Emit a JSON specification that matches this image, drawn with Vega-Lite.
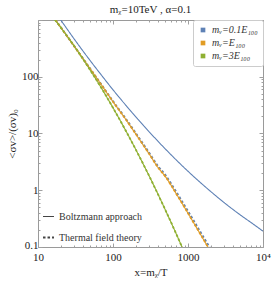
{
  "$schema": "https://vega.github.io/schema/vega-lite/v6.json",
  "width": 225,
  "height": 227,
  "autosize": {"type": "none"},
  "padding": {"left": 38, "top": 20, "right": 9, "bottom": 39},
  "title": {"text": "mᵪ=10TeV , α=0.1", "font": "Liberation Serif", "fontSize": 11, "fontWeight": "normal", "color": "#222", "offset": 5},
  "config": {
    "view": {"stroke": "#9a9a9a", "strokeWidth": 1},
    "font": "Liberation Serif",
    "axis": {"domain": false, "grid": false, "labelFont": "Liberation Serif", "labelFontSize": 11, "labelColor": "#222", "titleFont": "Liberation Serif", "titleFontSize": 11, "titleFontWeight": "normal", "titleColor": "#222", "tickColor": "#a0a0a0", "labelFlush": false}
  },
  "datasets": {
    "curves": [
      {"x": 20, "y": 1012, "s": "mᵥ=0.1E₁₀₀", "m": "Boltzmann approach"},
      {"x": 30, "y": 473, "s": "mᵥ=0.1E₁₀₀", "m": "Boltzmann approach"},
      {"x": 50, "y": 190, "s": "mᵥ=0.1E₁₀₀", "m": "Boltzmann approach"},
      {"x": 70, "y": 107, "s": "mᵥ=0.1E₁₀₀", "m": "Boltzmann approach"},
      {"x": 100, "y": 58.9, "s": "mᵥ=0.1E₁₀₀", "m": "Boltzmann approach"},
      {"x": 150, "y": 30.9, "s": "mᵥ=0.1E₁₀₀", "m": "Boltzmann approach"},
      {"x": 200, "y": 19.8, "s": "mᵥ=0.1E₁₀₀", "m": "Boltzmann approach"},
      {"x": 300, "y": 10.9, "s": "mᵥ=0.1E₁₀₀", "m": "Boltzmann approach"},
      {"x": 500, "y": 5.32, "s": "mᵥ=0.1E₁₀₀", "m": "Boltzmann approach"},
      {"x": 700, "y": 3.4, "s": "mᵥ=0.1E₁₀₀", "m": "Boltzmann approach"},
      {"x": 1000, "y": 2.16, "s": "mᵥ=0.1E₁₀₀", "m": "Boltzmann approach"},
      {"x": 2000, "y": 0.955, "s": "mᵥ=0.1E₁₀₀", "m": "Boltzmann approach"},
      {"x": 3000, "y": 0.613, "s": "mᵥ=0.1E₁₀₀", "m": "Boltzmann approach"},
      {"x": 5000, "y": 0.366, "s": "mᵥ=0.1E₁₀₀", "m": "Boltzmann approach"},
      {"x": 7000, "y": 0.267, "s": "mᵥ=0.1E₁₀₀", "m": "Boltzmann approach"},
      {"x": 10000, "y": 0.19, "s": "mᵥ=0.1E₁₀₀", "m": "Boltzmann approach"},

      {"x": 17.1, "y": 1000, "s": "mᵥ=E₁₀₀", "m": "Boltzmann approach"},
      {"x": 20, "y": 750, "s": "mᵥ=E₁₀₀", "m": "Boltzmann approach"},
      {"x": 30, "y": 352, "s": "mᵥ=E₁₀₀", "m": "Boltzmann approach"},
      {"x": 50, "y": 136, "s": "mᵥ=E₁₀₀", "m": "Boltzmann approach"},
      {"x": 70, "y": 72, "s": "mᵥ=E₁₀₀", "m": "Boltzmann approach"},
      {"x": 100, "y": 36.3, "s": "mᵥ=E₁₀₀", "m": "Boltzmann approach"},
      {"x": 150, "y": 17.3, "s": "mᵥ=E₁₀₀", "m": "Boltzmann approach"},
      {"x": 200, "y": 9.9, "s": "mᵥ=E₁₀₀", "m": "Boltzmann approach"},
      {"x": 300, "y": 4.47, "s": "mᵥ=E₁₀₀", "m": "Boltzmann approach"},
      {"x": 400, "y": 2.5, "s": "mᵥ=E₁₀₀", "m": "Boltzmann approach"},
      {"x": 500, "y": 1.74, "s": "mᵥ=E₁₀₀", "m": "Boltzmann approach"},
      {"x": 700, "y": 0.861, "s": "mᵥ=E₁₀₀", "m": "Boltzmann approach"},
      {"x": 1000, "y": 0.394, "s": "mᵥ=E₁₀₀", "m": "Boltzmann approach"},
      {"x": 1500, "y": 0.159, "s": "mᵥ=E₁₀₀", "m": "Boltzmann approach"},
      {"x": 2000, "y": 0.0835, "s": "mᵥ=E₁₀₀", "m": "Boltzmann approach"},

      {"x": 16.8, "y": 1011, "s": "mᵥ=3E₁₀₀", "m": "Boltzmann approach"},
      {"x": 20, "y": 748, "s": "mᵥ=3E₁₀₀", "m": "Boltzmann approach"},
      {"x": 30, "y": 357, "s": "mᵥ=3E₁₀₀", "m": "Boltzmann approach"},
      {"x": 50, "y": 129, "s": "mᵥ=3E₁₀₀", "m": "Boltzmann approach"},
      {"x": 70, "y": 63.3, "s": "mᵥ=3E₁₀₀", "m": "Boltzmann approach"},
      {"x": 100, "y": 28.4, "s": "mᵥ=3E₁₀₀", "m": "Boltzmann approach"},
      {"x": 150, "y": 10.85, "s": "mᵥ=3E₁₀₀", "m": "Boltzmann approach"},
      {"x": 200, "y": 5.3, "s": "mᵥ=3E₁₀₀", "m": "Boltzmann approach"},
      {"x": 300, "y": 1.84, "s": "mᵥ=3E₁₀₀", "m": "Boltzmann approach"},
      {"x": 400, "y": 0.839, "s": "mᵥ=3E₁₀₀", "m": "Boltzmann approach"},
      {"x": 500, "y": 0.447, "s": "mᵥ=3E₁₀₀", "m": "Boltzmann approach"},
      {"x": 700, "y": 0.168, "s": "mᵥ=3E₁₀₀", "m": "Boltzmann approach"},
      {"x": 832, "y": 0.1, "s": "mᵥ=3E₁₀₀", "m": "Boltzmann approach"},
      {"x": 1000, "y": 0.057, "s": "mᵥ=3E₁₀₀", "m": "Boltzmann approach"},

      {"x": 17.1, "y": 1000, "s": "mᵥ=0.1E₁₀₀", "m": "Thermal field theory"},
      {"x": 20, "y": 752, "s": "mᵥ=0.1E₁₀₀", "m": "Thermal field theory"},
      {"x": 30, "y": 354, "s": "mᵥ=0.1E₁₀₀", "m": "Thermal field theory"},
      {"x": 50, "y": 137, "s": "mᵥ=0.1E₁₀₀", "m": "Thermal field theory"},
      {"x": 70, "y": 73, "s": "mᵥ=0.1E₁₀₀", "m": "Thermal field theory"},
      {"x": 100, "y": 37.2, "s": "mᵥ=0.1E₁₀₀", "m": "Thermal field theory"},
      {"x": 150, "y": 17.9, "s": "mᵥ=0.1E₁₀₀", "m": "Thermal field theory"},
      {"x": 200, "y": 10.3, "s": "mᵥ=0.1E₁₀₀", "m": "Thermal field theory"},
      {"x": 300, "y": 4.7, "s": "mᵥ=0.1E₁₀₀", "m": "Thermal field theory"},
      {"x": 400, "y": 2.65, "s": "mᵥ=0.1E₁₀₀", "m": "Thermal field theory"},
      {"x": 500, "y": 1.86, "s": "mᵥ=0.1E₁₀₀", "m": "Thermal field theory"},
      {"x": 700, "y": 0.93, "s": "mᵥ=0.1E₁₀₀", "m": "Thermal field theory"},
      {"x": 1000, "y": 0.43, "s": "mᵥ=0.1E₁₀₀", "m": "Thermal field theory"},
      {"x": 1500, "y": 0.175, "s": "mᵥ=0.1E₁₀₀", "m": "Thermal field theory"},
      {"x": 2000, "y": 0.093, "s": "mᵥ=0.1E₁₀₀", "m": "Thermal field theory"},

      {"x": 17.1, "y": 1000, "s": "mᵥ=E₁₀₀", "m": "Thermal field theory"},
      {"x": 20, "y": 750, "s": "mᵥ=E₁₀₀", "m": "Thermal field theory"},
      {"x": 30, "y": 352, "s": "mᵥ=E₁₀₀", "m": "Thermal field theory"},
      {"x": 50, "y": 136, "s": "mᵥ=E₁₀₀", "m": "Thermal field theory"},
      {"x": 70, "y": 72, "s": "mᵥ=E₁₀₀", "m": "Thermal field theory"},
      {"x": 100, "y": 36.3, "s": "mᵥ=E₁₀₀", "m": "Thermal field theory"},
      {"x": 150, "y": 17.3, "s": "mᵥ=E₁₀₀", "m": "Thermal field theory"},
      {"x": 200, "y": 9.9, "s": "mᵥ=E₁₀₀", "m": "Thermal field theory"},
      {"x": 300, "y": 4.47, "s": "mᵥ=E₁₀₀", "m": "Thermal field theory"},
      {"x": 400, "y": 2.5, "s": "mᵥ=E₁₀₀", "m": "Thermal field theory"},
      {"x": 500, "y": 1.74, "s": "mᵥ=E₁₀₀", "m": "Thermal field theory"},
      {"x": 700, "y": 0.861, "s": "mᵥ=E₁₀₀", "m": "Thermal field theory"},
      {"x": 1000, "y": 0.394, "s": "mᵥ=E₁₀₀", "m": "Thermal field theory"},
      {"x": 1500, "y": 0.159, "s": "mᵥ=E₁₀₀", "m": "Thermal field theory"},
      {"x": 2000, "y": 0.0835, "s": "mᵥ=E₁₀₀", "m": "Thermal field theory"},

      {"x": 16.8, "y": 1011, "s": "mᵥ=3E₁₀₀", "m": "Thermal field theory"},
      {"x": 20, "y": 748, "s": "mᵥ=3E₁₀₀", "m": "Thermal field theory"},
      {"x": 30, "y": 357, "s": "mᵥ=3E₁₀₀", "m": "Thermal field theory"},
      {"x": 50, "y": 129, "s": "mᵥ=3E₁₀₀", "m": "Thermal field theory"},
      {"x": 70, "y": 63.3, "s": "mᵥ=3E₁₀₀", "m": "Thermal field theory"},
      {"x": 100, "y": 28.4, "s": "mᵥ=3E₁₀₀", "m": "Thermal field theory"},
      {"x": 150, "y": 10.85, "s": "mᵥ=3E₁₀₀", "m": "Thermal field theory"},
      {"x": 200, "y": 5.3, "s": "mᵥ=3E₁₀₀", "m": "Thermal field theory"},
      {"x": 300, "y": 1.84, "s": "mᵥ=3E₁₀₀", "m": "Thermal field theory"},
      {"x": 400, "y": 0.839, "s": "mᵥ=3E₁₀₀", "m": "Thermal field theory"},
      {"x": 500, "y": 0.447, "s": "mᵥ=3E₁₀₀", "m": "Thermal field theory"},
      {"x": 700, "y": 0.168, "s": "mᵥ=3E₁₀₀", "m": "Thermal field theory"},
      {"x": 832, "y": 0.1, "s": "mᵥ=3E₁₀₀", "m": "Thermal field theory"},
      {"x": 1000, "y": 0.057, "s": "mᵥ=3E₁₀₀", "m": "Thermal field theory"}
    ]
  },
  "data": {"name": "curves"},
  "resolve": {"axis": {"x": "independent", "y": "independent"}},
  "layer": [
    {
      "mark": {"type": "line", "clip": true, "interpolate": "monotone"},
      "encoding": {
        "x": {"field": "x", "type": "quantitative",
          "scale": {"type": "log", "domain": [10, 10000], "nice": false},
          "axis": {"orient": "bottom", "title": "x=mᵪ/T", "titlePadding": 4, "labelPadding": 8,
            "values": [10,20,30,40,50,60,70,80,90,100,200,300,400,500,600,700,800,900,1000,2000,3000,4000,5000,6000,7000,8000,9000,10000],
            "tickSize": {"condition": {"test": "indexof([10,100,1000,10000], datum.value) >= 0", "value": -4}, "value": -2},
            "labelExpr": "datum.value == 10000 ? '10⁴' : (indexof([10,100,1000], datum.value) >= 0 ? format(datum.value, 'd') : '')"}},
        "y": {"field": "y", "type": "quantitative",
          "scale": {"type": "log", "domain": [0.1, 1000], "nice": false},
          "axis": {"orient": "left", "title": "<σv>/(σv)₀", "titlePadding": 4, "labelPadding": 4,
            "values": [0.1,0.2,0.3,0.4,0.5,0.6,0.7,0.8,0.9,1,2,3,4,5,6,7,8,9,10,20,30,40,50,60,70,80,90,100,200,300,400,500,600,700,800,900,1000],
            "tickSize": {"condition": {"test": "indexof([0.1,1,10,100,1000], datum.value) >= 0", "value": -4}, "value": -2},
            "labelOffset": {"condition": {"test": "datum.value < 0.15", "value": -2}, "value": 0},
            "labelExpr": "indexof([0.1,1,10,100], datum.value) >= 0 ? (datum.value < 1 ? '0.1' : format(datum.value, 'd')) : ''"}},
        "color": {"field": "s", "type": "nominal",
          "scale": {"domain": ["mᵥ=0.1E₁₀₀", "mᵥ=E₁₀₀", "mᵥ=3E₁₀₀"], "range": ["#5E81B5", "#E19C24", "#8FB032"]},
          "legend": {"orient": "top-right", "title": null, "symbolType": "square", "symbolSize": 22, "labelFont": "Liberation Serif", "labelFontSize": 10, "labelFontStyle": "italic", "labelColor": "#333", "strokeColor": "#cccccc", "fillColor": "white", "padding": 5, "offset": 0, "rowPadding": 3, "cornerRadius": 2,
            "encode": {"symbols": {"update": {"fill": {"scale": "color", "field": "value"}, "strokeWidth": {"value": 0}}}}}},
        "strokeDash": {"field": "m", "type": "nominal",
          "scale": {"domain": ["Boltzmann approach", "Thermal field theory"], "range": [[1, 0], [2.5, 2]]},
          "legend": {"orient": "bottom-left", "title": null, "symbolType": "stroke", "symbolStrokeColor": "#444", "symbolStrokeWidth": 1.3, "symbolSize": 120, "labelFont": "Liberation Serif", "labelFontSize": 10, "labelColor": "#333", "rowPadding": 9, "offset": 4}},
        "strokeWidth": {"field": "m", "type": "nominal", "scale": {"domain": ["Boltzmann approach", "Thermal field theory"], "range": [1.1, 1.8]}, "legend": null},
        "order": {"field": "x", "type": "quantitative"}
      }
    },
    {
      "mark": {"type": "line", "opacity": 0, "clip": true},
      "encoding": {
        "x": {"field": "x", "type": "quantitative",
          "scale": {"type": "log", "domain": [10, 10000], "nice": false},
          "axis": {"orient": "top", "title": null, "labels": false,
            "values": [10,20,30,40,50,60,70,80,90,100,200,300,400,500,600,700,800,900,1000,2000,3000,4000,5000,6000,7000,8000,9000,10000],
            "tickSize": {"condition": {"test": "indexof([10,100,1000,10000], datum.value) >= 0", "value": -4}, "value": -2}}},
        "y": {"field": "y", "type": "quantitative",
          "scale": {"type": "log", "domain": [0.1, 1000], "nice": false},
          "axis": {"orient": "right", "title": null, "labels": false,
            "values": [0.1,0.2,0.3,0.4,0.5,0.6,0.7,0.8,0.9,1,2,3,4,5,6,7,8,9,10,20,30,40,50,60,70,80,90,100,200,300,400,500,600,700,800,900,1000],
            "tickSize": {"condition": {"test": "indexof([0.1,1,10,100,1000], datum.value) >= 0", "value": -4}, "value": -2}}},
        "detail": {"field": "s", "type": "nominal"}
      }
    }
  ]
}
